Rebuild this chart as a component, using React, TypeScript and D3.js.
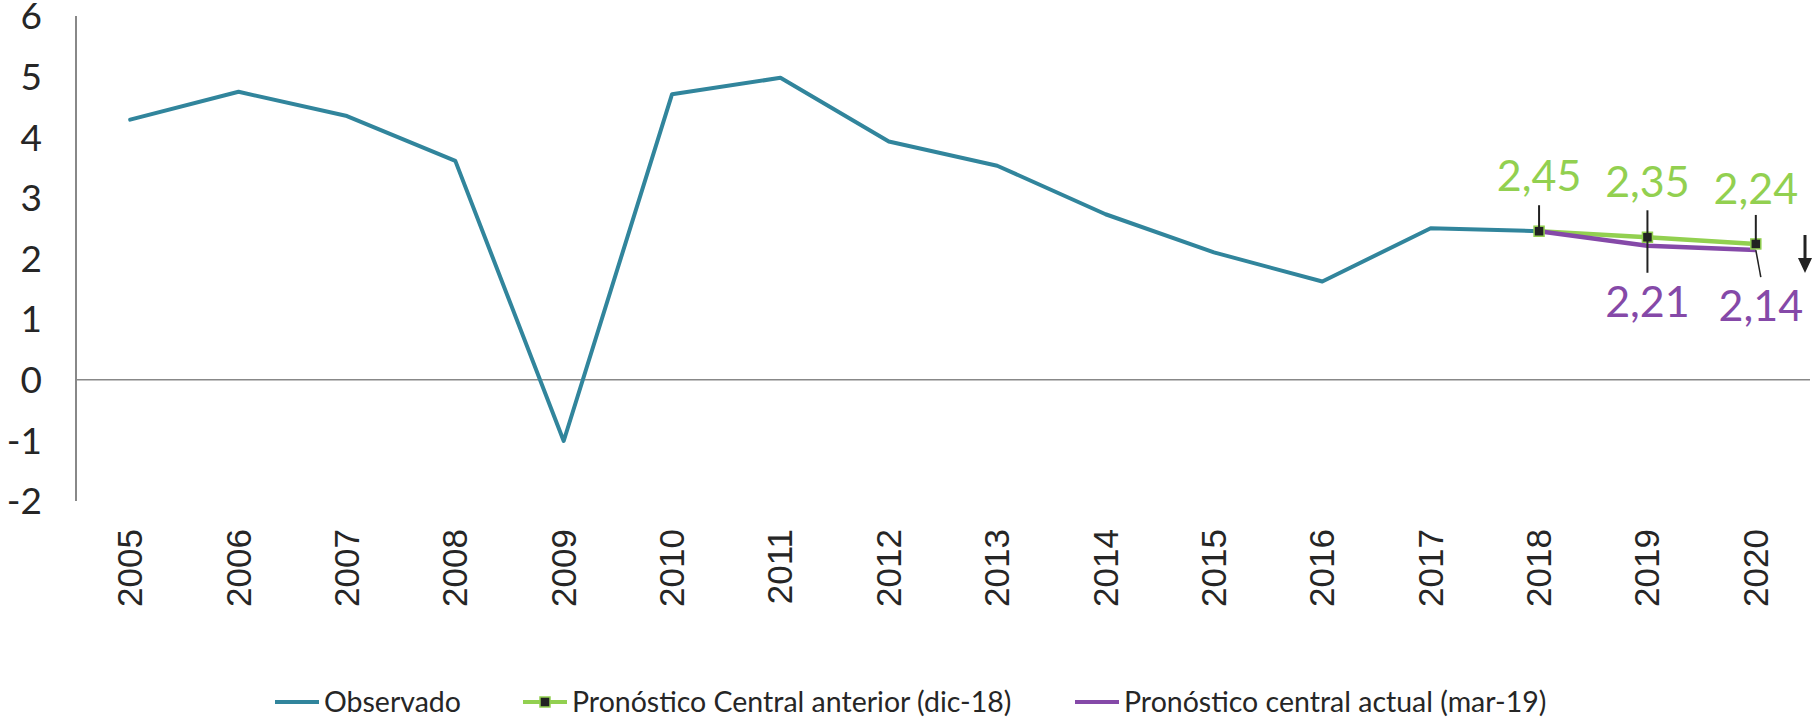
import { useEffect, useRef } from "react";
import * as d3 from "d3";

const years = ["2005", "2006", "2007", "2008", "2009", "2010", "2011", "2012", "2013", "2014", "2015", "2016", "2017", "2018", "2019", "2020"];
const observado = [4.29, 4.75, 4.35, 3.61, -1.01, 4.71, 4.98, 3.93, 3.53, 2.73, 2.1, 1.62, 2.5, 2.45];
const forecastYears = ["2018", "2019", "2020"];
const anterior = [2.45, 2.35, 2.24];
const actual = [2.45, 2.21, 2.14];
const yTicks = [6, 5, 4, 3, 2, 1, 0, -1, -2];
const legendItems = ["Observado", "Pronóstico Central anterior (dic-18)", "Pronóstico central actual (mar-19)"];

const TEAL = "#31859c";
const GREEN = "#92d050";
const PURPLE = "#8549a8";
const FONT = "Lato, 'Open Sans', sans-serif";

export default function App() {
  const ref = useRef<SVGSVGElement>(null);

  useEffect(() => {
    const width = 1813;
    const height = 723;
    const svg = d3.select(ref.current).attr("width", width).attr("height", height);
    svg.selectAll("*").remove();

    const x = d3.scaleBand().domain(years).range([76, 1810]);
    const y = d3.scaleLinear().domain([-2, 6]).range([501, 16]);
    const cx = (d: string) => (x(d) as number) + x.bandwidth() / 2;

    // axes
    svg.append("line").attr("x1", 76).attr("x2", 76).attr("y1", y(6)).attr("y2", y(-2))
      .attr("stroke", "#888").attr("stroke-width", 2);
    svg.append("line").attr("x1", 76).attr("x2", 1810).attr("y1", y(0)).attr("y2", y(0))
      .attr("stroke", "#888").attr("stroke-width", 1.5);

    svg.append("g").selectAll("text").data(yTicks).join("text")
      .attr("x", 42).attr("y", d => y(d)).attr("dy", "0.36em")
      .attr("text-anchor", "end").attr("font-family", FONT).attr("font-size", 37)
      .attr("fill", "#262626").text(d => String(d));

    svg.append("g").selectAll("text").data(years).join("text")
      .attr("transform", d => `translate(${cx(d) + 12},529) rotate(-90)`)
      .attr("text-anchor", "end").attr("font-family", "'Liberation Sans', Arial, sans-serif")
      .attr("font-size", 35).attr("fill", "#262626").text(d => d);

    const line = d3.line<[string, number]>().x(d => cx(d[0])).y(d => y(d[1]));

    svg.append("path").datum(observado.map((v, i) => [years[i], v] as [string, number]))
      .attr("fill", "none").attr("stroke", TEAL).attr("stroke-width", 4)
      .attr("stroke-linejoin", "round").attr("stroke-linecap", "round").attr("d", line);

    svg.append("path").datum(anterior.map((v, i) => [forecastYears[i], v] as [string, number]))
      .attr("fill", "none").attr("stroke", GREEN).attr("stroke-width", 4.5)
      .attr("stroke-linejoin", "round").attr("d", line);

    svg.append("path").datum(actual.map((v, i) => [forecastYears[i], v] as [string, number]))
      .attr("fill", "none").attr("stroke", PURPLE).attr("stroke-width", 4.5)
      .attr("stroke-linejoin", "round").attr("d", line);

    // markers of previous forecast
    svg.append("g").selectAll("rect").data(anterior).join("rect")
      .attr("x", (_, i) => cx(forecastYears[i]) - 5).attr("y", d => y(d) - 5)
      .attr("width", 10).attr("height", 10)
      .attr("fill", "#222").attr("stroke", GREEN).attr("stroke-width", 1.5);

    // leader lines
    const lead = svg.append("g").attr("stroke", "#222").attr("stroke-width", 2);
    lead.append("line").attr("x1", cx("2018")).attr("x2", cx("2018"))
      .attr("y1", y(anterior[0]) - 26).attr("y2", y(anterior[0]));
    lead.append("line").attr("x1", cx("2019")).attr("x2", cx("2019"))
      .attr("y1", y(anterior[1]) - 27).attr("y2", y(actual[1]) + 27);
    lead.append("line").attr("x1", cx("2020")).attr("x2", cx("2020"))
      .attr("y1", y(anterior[2]) - 29).attr("y2", y(anterior[2]));
    lead.append("line").attr("x1", cx("2020")).attr("x2", cx("2020") + 5)
      .attr("y1", y(actual[2])).attr("y2", y(actual[2]) + 27).attr("stroke-width", 1.5);

    const fmt = (v: number) => v.toFixed(2).replace(".", ",");

    svg.append("g").selectAll("text").data(anterior).join("text")
      .attr("x", (_, i) => cx(forecastYears[i])).attr("y", d => y(d) - 40)
      .attr("text-anchor", "middle").attr("font-family", FONT).attr("font-size", 43)
      .attr("fill", GREEN).text(d => fmt(d));

    svg.append("g").selectAll("text").data(actual.slice(1)).join("text")
      .attr("x", (_, i) => cx(forecastYears[i + 1]) + (i === 1 ? 5 : 0)).attr("y", d => y(d) + 71)
      .attr("text-anchor", "middle").attr("font-family", FONT).attr("font-size", 43)
      .attr("fill", PURPLE).text(d => fmt(d));

    // down arrow
    const ax = 1805;
    svg.append("line").attr("x1", ax).attr("x2", ax).attr("y1", 235).attr("y2", 262)
      .attr("stroke", "#222").attr("stroke-width", 3);
    svg.append("path").attr("d", `M${ax - 7},258L${ax + 7},258L${ax},273Z`).attr("fill", "#222");

    // legend
    const legendX = [275, 523, 1075];
    const ly = 702;
    const lg = svg.append("g");
    const colors = [TEAL, GREEN, PURPLE];
    legendItems.forEach((label, i) => {
      lg.append("line").attr("x1", legendX[i]).attr("x2", legendX[i] + 44)
        .attr("y1", ly).attr("y2", ly).attr("stroke", colors[i]).attr("stroke-width", 4);
      if (i === 1) {
        lg.append("rect").attr("x", legendX[i] + 17).attr("y", ly - 5).attr("width", 10).attr("height", 10)
          .attr("fill", "#222").attr("stroke", GREEN).attr("stroke-width", 1.5);
      }
      lg.append("text").attr("x", legendX[i] + 49).attr("y", ly).attr("dy", "0.36em")
        .attr("font-family", FONT).attr("font-size", 28.5).attr("fill", "#262626").text(label);
    });
  }, []);

  return <svg ref={ref} style={{ position: "absolute", left: 0, top: 0 }} />;
}
